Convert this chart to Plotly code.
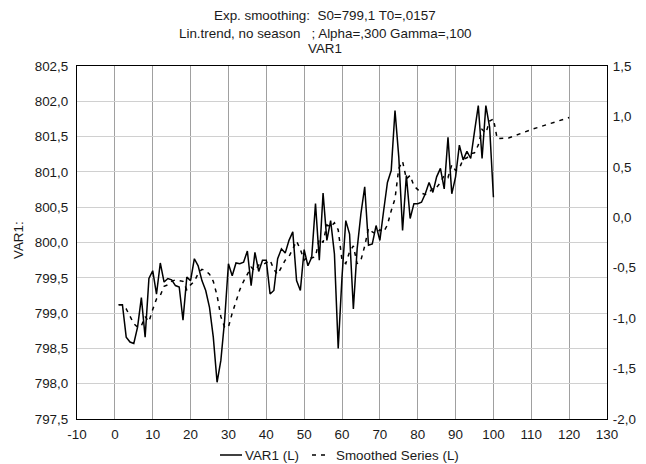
import plotly.graph_objects as go

# ---- data ----
t_var1 = list(range(1, 101))
var1 = [799.12, 799.12, 798.66, 798.59, 798.57, 798.80, 799.22, 798.66, 799.49, 799.60,
        799.27, 799.71, 799.44, 799.49, 799.47, 799.39, 799.37, 798.90, 799.51, 799.46,
        799.77, 799.67, 799.46, 799.32, 799.08, 798.66, 798.02, 798.33, 798.90, 799.70,
        799.53, 799.71, 799.70, 799.72, 799.88, 799.39, 799.86, 799.59, 799.75, 799.75,
        799.27, 799.32, 799.77, 799.91, 799.85, 800.03, 800.15, 799.46, 799.32, 799.90,
        799.67, 799.79, 800.55, 799.75, 800.70, 800.03, 800.31, 799.84, 798.50, 799.51,
        800.31, 800.12, 799.06, 799.91, 800.41, 800.79, 799.96, 799.98, 800.24, 800.03,
        800.45, 800.85, 801.02, 801.87, 801.21, 800.17, 800.95, 800.34, 800.55, 800.55,
        800.57, 800.69, 800.85, 800.71, 800.93, 801.05, 800.76, 801.49, 800.69, 800.93,
        801.38, 801.17, 801.29, 801.19, 801.57, 801.94, 801.19, 801.94, 801.63, 800.64]

t_smooth = list(range(1, 102)) + [104, 110, 120]
smooth = [799.12, 799.12, 799.06, 798.95, 798.85, 798.80, 798.82, 798.95, 798.88, 799.05,
          799.20, 799.25, 799.38, 799.40, 799.45, 799.47, 799.46, 799.45, 799.33, 799.40,
          799.45, 799.56, 799.62, 799.60, 799.55, 799.45, 799.25, 798.95, 798.80, 798.80,
          799.00, 799.18, 799.33, 799.45, 799.55, 799.65, 799.60, 799.68, 799.68, 799.72,
          799.75, 799.62, 799.55, 799.65, 799.75, 799.80, 799.90, 800.02, 799.90, 799.75,
          799.80, 799.78, 799.80, 800.05, 800.00, 800.25, 800.22, 800.28, 800.18, 799.75,
          799.70, 799.87, 799.95, 799.70, 799.75, 799.95, 800.20, 800.15, 800.12, 800.18,
          800.15, 800.25, 800.45, 800.62, 801.05, 801.15, 800.90, 800.95, 800.80, 800.75,
          800.70, 800.68, 800.70, 800.78, 800.78, 800.85, 800.95, 800.92, 801.10, 801.02,
          801.05, 801.18, 801.20, 801.26, 801.27, 801.38, 801.60, 801.55, 801.72, 801.75,
          801.47, 801.48, 801.60, 801.77]

x_ticks = list(range(-10, 131, 10))
x_tick_text = ["-10", "0", "10", "20", "30", "40", "50", "60", "70", "80", "90",
               "100", "110", "120", "130"]
y_left_vals = [797.5, 798.0, 798.5, 799.0, 799.5, 800.0, 800.5, 801.0, 801.5, 802.0, 802.5]
y_left_text = ["797,5", "798,0", "798,5", "799,0", "799,5", "800,0", "800,5",
               "801,0", "801,5", "802,0", "802,5"]
y_right_vals = [-2.0, -1.5, -1.0, -0.5, 0.0, 0.5, 1.0, 1.5]
y_right_text = ["-2,0", "-1,5", "-1,0", "-0,5", "0,0", "0,5", "1,0", "1,5"]

title_lines = ["Exp. smoothing:  S0=799,1 T0=,0157",
               "Lin.trend, no season   ; Alpha=,300 Gamma=,100",
               "VAR1"]
legend_names = ["VAR1 (L)", "Smoothed Series (L)"]

FONT = "Liberation Sans, Arial, sans-serif"
FS = 13.4
TXT = "#1a1a1a"

W, H = 646, 464
L, R, T, B = 77, 39, 66, 45
pw, ph = W - L - R, H - T - B


def py_(p):
    return (H - B - p) / ph


def px_(p):
    return (p - L) / pw


fig = go.Figure()
fig.add_trace(go.Scatter(x=t_var1, y=var1, mode="lines", name=legend_names[0],
                         line=dict(color="black", width=1.5), showlegend=False))
fig.add_trace(go.Scatter(x=t_smooth, y=smooth, mode="lines", name=legend_names[1],
                         line=dict(color="black", width=1.5, dash="4px,5px"),
                         showlegend=False))
fig.add_trace(go.Scatter(x=[None], y=[None], yaxis="y2", showlegend=False, hoverinfo="skip"))

annotations = []
for text, yc in zip(title_lines, [15.5, 33.5, 49]):
    annotations.append(dict(text=text, x=px_(325), y=py_(yc), xref="paper", yref="paper",
                            xanchor="center", yanchor="middle", showarrow=False,
                            font=dict(family=FONT, size=FS, color=TXT)))
annotations.append(dict(text="VAR1:", x=px_(18), y=py_(240), xref="paper", yref="paper",
                        textangle=-90, showarrow=False, xanchor="center", yanchor="middle",
                        font=dict(family=FONT, size=FS, color=TXT)))
# manual legend
annotations.append(dict(text=legend_names[0], x=px_(243), y=py_(455), xref="paper",
                        yref="paper", xanchor="left", yanchor="middle", showarrow=False,
                        font=dict(family=FONT, size=FS, color=TXT)))
annotations.append(dict(text=legend_names[1], x=px_(334), y=py_(455), xref="paper",
                        yref="paper", xanchor="left", yanchor="middle", showarrow=False,
                        font=dict(family=FONT, size=FS, color=TXT)))

shapes = [
    dict(type="line", xref="paper", yref="paper", x0=px_(220), x1=px_(242), y0=py_(455),
         y1=py_(455), line=dict(color="black", width=1.5)),
    dict(type="line", xref="paper", yref="paper", x0=px_(312), x1=px_(329), y0=py_(455),
         y1=py_(455), line=dict(color="black", width=1.5, dash="4px,5px")),
]

fig.update_layout(
    width=W, height=H,
    margin=dict(l=L, r=R, t=T, b=B, autoexpand=False),
    paper_bgcolor="white", plot_bgcolor="white",
    font=dict(family=FONT, size=FS, color=TXT),
    showlegend=False,
    annotations=annotations,
    shapes=shapes,
    xaxis=dict(range=[-10, 130], tickvals=x_ticks, ticktext=x_tick_text, showgrid=True,
               gridcolor="#a0a0a0", gridwidth=1.2, showline=True, linecolor="black",
               linewidth=1.2, mirror=True, zeroline=False, ticks="", automargin=False,
               ticklabelstandoff=3, tickfont=dict(family=FONT, size=FS, color=TXT)),
    yaxis=dict(range=[797.5, 802.5], tickvals=y_left_vals, ticktext=y_left_text,
               showgrid=True, gridcolor="#d0d0d0", gridwidth=1.2, showline=True,
               linecolor="black", linewidth=1.2, mirror=True, zeroline=False, ticks="",
               automargin=False, ticklabelstandoff=5,
               tickfont=dict(family=FONT, size=FS, color=TXT)),
    yaxis2=dict(range=[-2.0, 1.5], overlaying="y", side="right", tickvals=y_right_vals,
                ticktext=y_right_text, showgrid=False, showline=True, linecolor="black",
                linewidth=1.2, zeroline=False, ticks="", automargin=False,
                ticklabelstandoff=2, tickfont=dict(family=FONT, size=FS, color=TXT)),
)

fig.write_html("out.html",
               config={"displayModeBar": False},
               post_script="document.body.style.margin='0';"
                           "document.body.style.overflow='hidden';")
